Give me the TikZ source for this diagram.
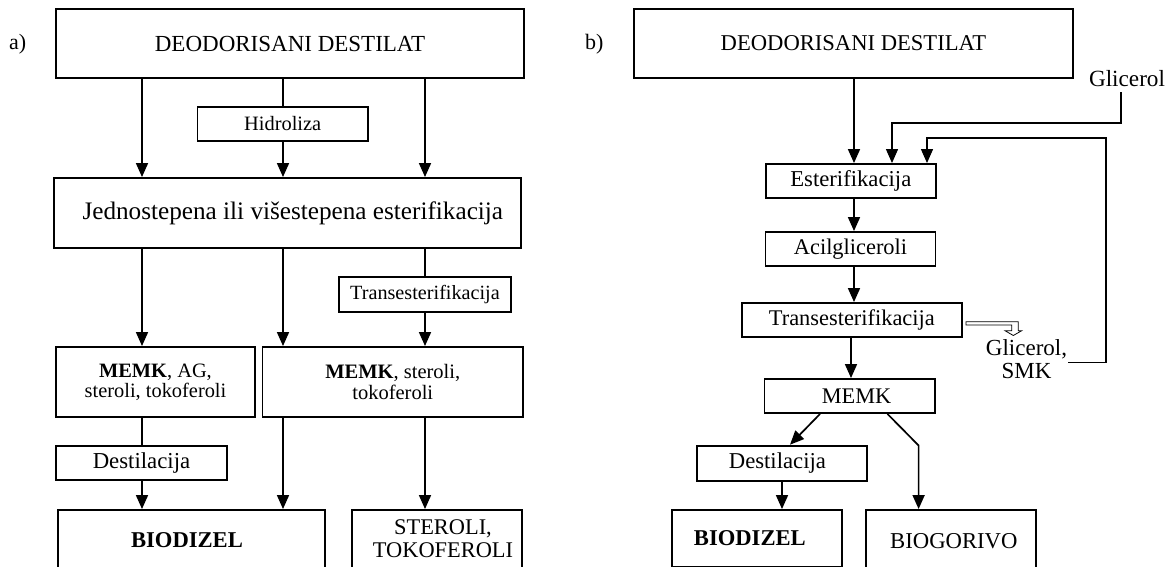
\documentclass[tikz,border=0pt]{standalone}
\usepackage{fontspec}
\setmainfont{Liberation Serif}
\usetikzlibrary{arrows.meta}

\newcommand{\fs}[2]{\fontsize{#1}{#2}\selectfont}

\tikzset{
  box/.style={draw, line width=1.9pt, inner sep=0pt, align=center},
  arr/.style={line width=1.7pt, -{Triangle[length=14pt,width=12pt]}},
  ln/.style={line width=1.7pt},
  fbarr/.style={line width=1.3pt, -{Triangle[length=14pt,width=12pt]}},
  fbln/.style={line width=1.3pt},
  hollow/.style={line width=0.8pt, fill=white, line join=miter},
}

\begin{document}
\begin{tikzpicture}[x=1pt,y=-1pt]
\clip (0,0) rectangle (1168,567);
\fill[white] (0,0) rectangle (1168,567);

% ---------------- scheme a) ----------------
\node[anchor=base west, inner sep=0pt, font=\fs{22}{24}] (lblA) at (9,50) {a)};

\node[box, minimum width=468pt, minimum height=69pt, font=\fs{23}{24}] (topA) at (290,43.5) {DEODORISANI DESTILAT};
\node[box, minimum width=170.5pt, minimum height=34pt, font=\fs{20.4}{22}] (hidro) at (282.75,124) {Hidroliza};
\node[box, minimum width=467.4pt, minimum height=70pt, font=\fs{25.2}{27}] (jedno) at (287.3,213) {\hspace*{11pt}Jednostepena ili višestepena esterifikacija};
\node[box, minimum width=172pt, minimum height=35pt, font=\fs{20.2}{22}] (transA) at (425,294.5) {Transesterifikacija};
\node[box, minimum width=199pt, minimum height=70pt, font=\fs{20.4}{20}] (memkA1) at (155.5,382) {\textbf{MEMK}, AG,\\steroli, tokoferoli};
\node[box, minimum width=260.5pt, minimum height=70pt, font=\fs{20.5}{21}] (memkA2) at (392.75,382) {\textbf{MEMK}, steroli,\\tokoferoli};
\node[box, minimum width=171pt, minimum height=34pt, font=\fs{22.8}{24}] (destA) at (141.5,463) {Destilacija};
\node[box, minimum width=267pt, minimum height=61pt, font=\bfseries\fs{22.6}{24}] (biodA) at (191.5,540.5) {BIODIZEL\hspace*{9pt}};
\node[box, minimum width=170pt, minimum height=58pt, font=\fs{22.4}{23}] (sterA) at (437,539) {\hspace*{12pt}STEROLI,\\\hspace*{12pt}TOKOFEROLI};

\coordinate (ca1) at (142,0);
\coordinate (ca2) at (283,0);
\coordinate (ca3) at (425,0);

\draw[arr] (topA.south -| ca1) -- (jedno.north -| ca1);
\draw[ln]  (topA.south -| ca2) -- (hidro.north -| ca2);
\draw[arr] (hidro.south -| ca2) -- (jedno.north -| ca2);
\draw[arr] (topA.south -| ca3) -- (jedno.north -| ca3);

\draw[arr] (jedno.south -| ca1) -- (memkA1.north -| ca1);
\draw[arr] (jedno.south -| ca2) -- (memkA2.north -| ca2);
\draw[ln]  (jedno.south -| ca3) -- (transA.north -| ca3);
\draw[arr] (transA.south -| ca3) -- (memkA2.north -| ca3);

\draw[ln]  (memkA1.south -| ca1) -- (destA.north -| ca1);
\draw[arr] (destA.south -| ca1) -- (biodA.north -| ca1);
\draw[arr] (memkA2.south -| ca2) -- (biodA.north -| ca2);
\draw[arr] (memkA2.south -| ca3) -- (sterA.north -| ca3);

% ---------------- scheme b) ----------------
\node[anchor=base west, inner sep=0pt, font=\fs{22}{24}] (lblB) at (585,50) {b)};

\node[box, minimum width=439pt, minimum height=69pt, font=\fs{22.6}{24}] (topB) at (853.5,43.5) {DEODORISANI DESTILAT};
\node[anchor=base, inner sep=5pt, font=\fs{23.2}{24}] (glic) at (1127,87) {Glicerol};
\node[box, minimum width=170.4pt, minimum height=34pt, font=\fs{22.7}{24}] (ester) at (850.8,181) {Esterifikacija};
\node[box, minimum width=170pt, minimum height=34pt, font=\fs{22.4}{24}] (acil) at (850.5,249) {Acilgliceroli};
\node[box, minimum width=219.7pt, minimum height=34pt, font=\fs{22.4}{24}] (transB) at (851.85,320) {Transesterifikacija};
\node[align=center, inner sep=1pt, font=\fs{23}{23}] (glsmk) at (1026.5,359.6) {Glicerol,\\SMK};
\node[box, minimum width=170.2pt, minimum height=34pt, font=\fs{22.3}{24}] (memkB) at (849.6,396) {\hspace*{14pt}MEMK};
\node[box, minimum width=169.8pt, minimum height=35.3pt, font=\fs{22.7}{24}] (destB) at (781.9,463.3) {Destilacija\hspace*{9pt}};
\node[box, minimum width=169.7pt, minimum height=57pt, font=\bfseries\fs{22.6}{24}] (biodB) at (756.85,538.5) {BIODIZEL\hspace*{14pt}};
\node[box, minimum width=170.3pt, minimum height=63pt, font=\fs{22.7}{24}] (biogB) at (950.85,541.5) {\hspace*{6pt}BIOGORIVO};

\coordinate (cb1) at (854,0);
\coordinate (cb2) at (892,0);
\coordinate (cb3) at (927,0);
\coordinate (cb4) at (851,0);
\coordinate (cb5) at (782,0);

\draw[arr] (topB.south -| cb1) -- (ester.north -| cb1);

% fresh glycerol feed
\coordinate (gturn) at (1121,123);
\draw[fbarr] (glic.south -| gturn) -- (gturn) -| (ester.north -| cb2);

% glycerol / SMK recycle loop
\coordinate (lp1) at (1106,362.7);
\coordinate (lp2) at (927,138);
\draw[fbln] (glsmk.east |- lp1) -- (lp1);
\draw[fbarr] (lp1) |- (lp2) -- (ester.north -| lp2);

\draw[arr] (ester.south -| cb1) -- (acil.north -| cb1);
\draw[arr] (acil.south -| cb1) -- (transB.north -| cb1);
\draw[arr] (transB.south -| cb4) -- (memkB.north -| cb4);

% hollow side arrow towards the by-products
\draw[hollow] (966,321.7) -- ++(52.3,0) -- ++(0,9) -- ++(3.4,0) -- ++(-8.4,4.8)
  -- ++(-8.3,-4.8) -- ++(6.7,0) -- ++(0,-5.7) -- ++(-45.7,0) -- cycle;

\coordinate (m1) at (820,0);
\coordinate (d1) at (790,0);
\coordinate (m2) at (887.5,0);
\coordinate (bend) at (918.6,445.5);
\draw[arr] (memkB.south -| m1) -- (destB.north -| d1);
\draw[arr] (memkB.south -| m2) -- (bend) -- (biogB.north -| bend);
\draw[arr] (destB.south -| cb5) -- (biodB.north -| cb5);

\end{tikzpicture}
\end{document}
